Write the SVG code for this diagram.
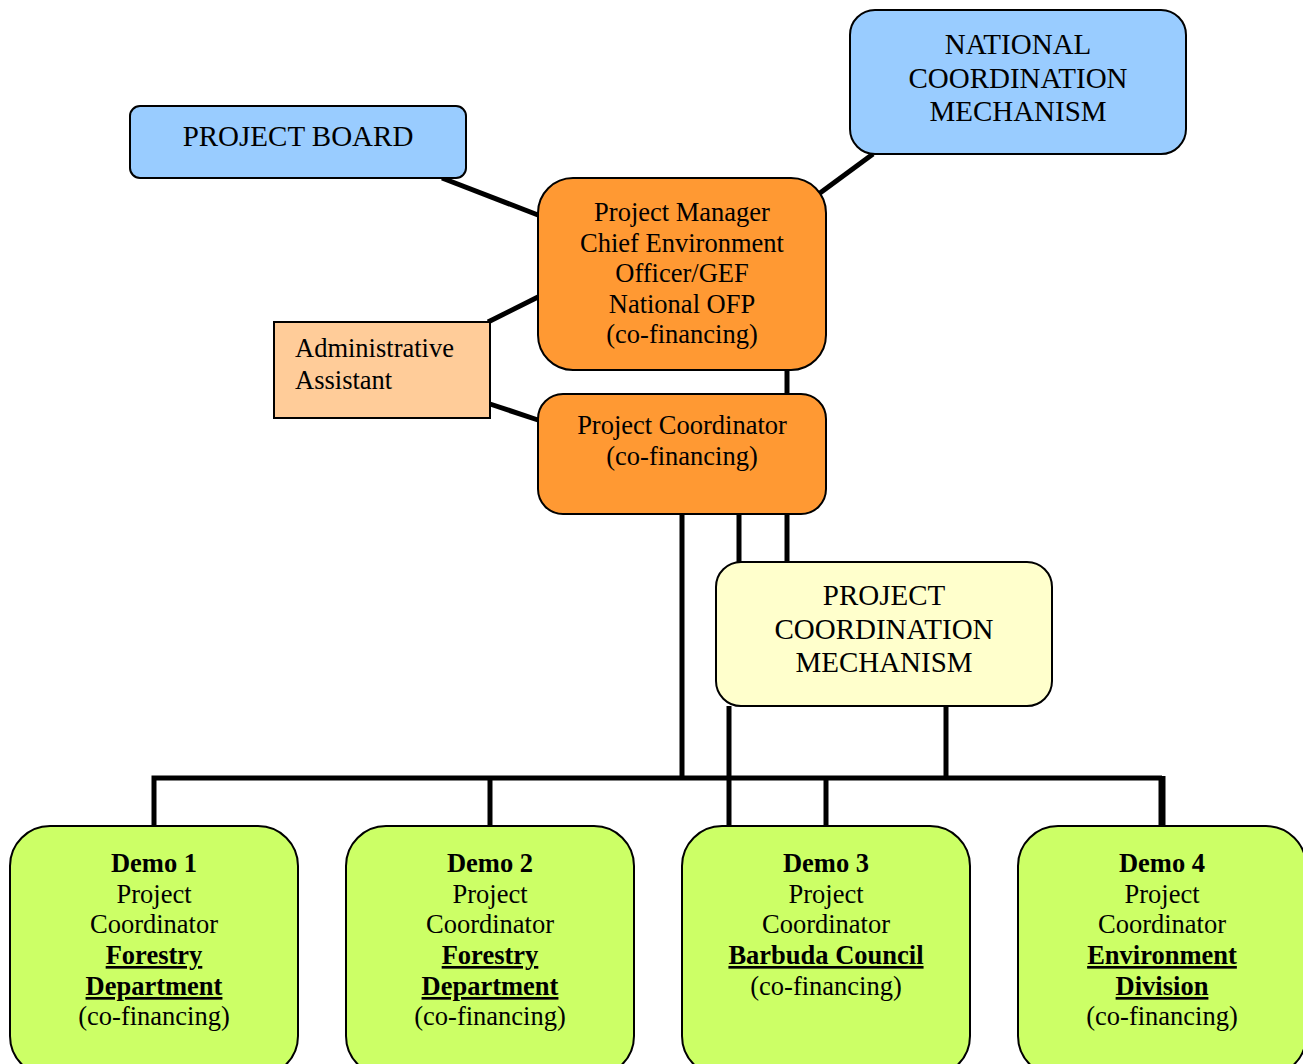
<svg xmlns="http://www.w3.org/2000/svg" width="1303" height="1064" viewBox="0 0 1303 1064">
<style>
.box{stroke:#000;stroke-width:2}
.t{fill:#000}
.c{text-anchor:middle}
.l{font-size:26.5px}
.L{font-size:29px}
.b{font-weight:bold}
.u{text-decoration:underline}
.ln{stroke:#000;stroke-width:5;fill:none}
</style>
<rect width="1303" height="1064" fill="#fff"/>
<g id="connectors">
<line class="ln" x1="442" y1="178" x2="538" y2="215"/>
<line class="ln" x1="873" y1="154" x2="820" y2="193"/>
<line class="ln" x1="488" y1="322" x2="538" y2="297"/>
<line class="ln" x1="490" y1="404" x2="538" y2="420"/>
<line class="ln" x1="787" y1="370" x2="787" y2="394"/>
<line class="ln" x1="682" y1="514" x2="682" y2="778"/>
<line class="ln" x1="739" y1="514" x2="739" y2="562"/>
<line class="ln" x1="787" y1="514" x2="787" y2="562"/>
<line class="ln" x1="729" y1="706" x2="729" y2="826"/>
<line class="ln" x1="946" y1="706" x2="946" y2="778"/>
<polyline class="ln" points="154,826 154,778 1162,778"/>
<line class="ln" x1="490" y1="778" x2="490" y2="826"/>
<line class="ln" x1="826" y1="778" x2="826" y2="826"/>
<line stroke="#000" stroke-width="7" x1="1162" y1="776" x2="1162" y2="826"/>
</g>
<g font-family="Liberation Serif, Times New Roman, serif">
<g id="project-board">
<rect class="box" x="130" y="106" width="336" height="72" rx="10" fill="#99CCFF"/>
<text class="t c L" x="298" y="146">PROJECT BOARD</text>
</g>
<g id="national-coordination">
<rect class="box" x="850" y="10" width="336" height="144" rx="25" fill="#99CCFF"/>
<text class="t c L" x="1018" y="54">NATIONAL</text>
<text class="t c L" x="1018" y="88">COORDINATION</text>
<text class="t c L" x="1018" y="121">MECHANISM</text>
</g>
<g id="project-manager">
<rect class="box" x="538" y="178" width="288" height="192" rx="35" fill="#FF9933"/>
<text class="t c l" x="682" y="221">Project Manager</text>
<text class="t c l" x="682" y="252">Chief Environment</text>
<text class="t c l" x="682" y="282">Officer/GEF</text>
<text class="t c l" x="682" y="313">National OFP</text>
<text class="t c l" x="682" y="343">(co-financing)</text>
</g>
<g id="admin-assistant">
<rect class="box" x="274" y="322" width="216" height="96" fill="#FFCC99"/>
<text class="t l" x="295" y="357">Administrative</text>
<text class="t l" x="295" y="389">Assistant</text>
</g>
<g id="project-coordinator">
<rect class="box" x="538" y="394" width="288" height="120" rx="25" fill="#FF9933"/>
<text class="t c l" x="682" y="434">Project Coordinator</text>
<text class="t c l" x="682" y="465">(co-financing)</text>
</g>
<g id="project-coordination-mechanism">
<rect class="box" x="716" y="562" width="336" height="144" rx="25" fill="#FFFFCC"/>
<text class="t c L" x="884" y="605">PROJECT</text>
<text class="t c L" x="884" y="639">COORDINATION</text>
<text class="t c L" x="884" y="672">MECHANISM</text>
</g>
<g id="demo1">
<rect class="box" x="10" y="826" width="288" height="250" rx="40" fill="#CCFF66"/>
<text class="t c l b" x="154" y="872">Demo 1</text>
<text class="t c l" x="154" y="903">Project</text>
<text class="t c l" x="154" y="933">Coordinator</text>
<text class="t c l b u" x="154" y="964">Forestry</text>
<text class="t c l b u" x="154" y="995">Department</text>
<text class="t c l" x="154" y="1025">(co-financing)</text>
</g>
<g id="demo2">
<rect class="box" x="346" y="826" width="288" height="250" rx="40" fill="#CCFF66"/>
<text class="t c l b" x="490" y="872">Demo 2</text>
<text class="t c l" x="490" y="903">Project</text>
<text class="t c l" x="490" y="933">Coordinator</text>
<text class="t c l b u" x="490" y="964">Forestry</text>
<text class="t c l b u" x="490" y="995">Department</text>
<text class="t c l" x="490" y="1025">(co-financing)</text>
</g>
<g id="demo3">
<rect class="box" x="682" y="826" width="288" height="250" rx="40" fill="#CCFF66"/>
<text class="t c l b" x="826" y="872">Demo 3</text>
<text class="t c l" x="826" y="903">Project</text>
<text class="t c l" x="826" y="933">Coordinator</text>
<text class="t c l b u" x="826" y="964">Barbuda Council</text>
<text class="t c l" x="826" y="995">(co-financing)</text>
</g>
<g id="demo4">
<rect class="box" x="1018" y="826" width="288" height="250" rx="40" fill="#CCFF66"/>
<text class="t c l b" x="1162" y="872">Demo 4</text>
<text class="t c l" x="1162" y="903">Project</text>
<text class="t c l" x="1162" y="933">Coordinator</text>
<text class="t c l b u" x="1162" y="964">Environment</text>
<text class="t c l b u" x="1162" y="995">Division</text>
<text class="t c l" x="1162" y="1025">(co-financing)</text>
</g>
</g>
</svg>
